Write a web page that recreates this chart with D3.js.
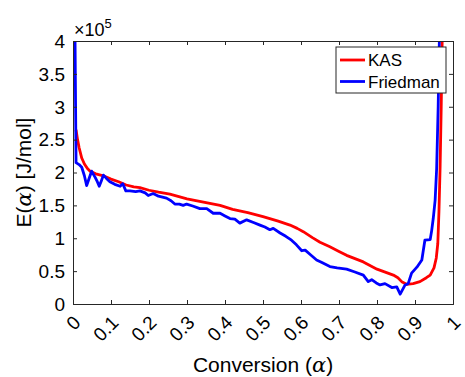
<!DOCTYPE html>
<html>
<head>
<meta charset="utf-8">
<script src="https://cdn.jsdelivr.net/npm/d3@7"></script>
<style>
  html, body { margin: 0; padding: 0; background: #fff; }
  svg { display: block; font-family: "Liberation Sans", Arial, Helvetica, sans-serif; }
</style>
</head>
<body>
<svg id="chart" width="465" height="377"></svg>
<script>
// Activation energy vs. conversion, KAS and Friedman isoconversional methods (E in J/mol)
const kasAlpha = [0.008,0.012,0.016,0.023,0.030,0.038,0.045,0.060,0.080,0.100,0.120,0.140,0.160,0.176,0.200,0.225,0.255,0.300,0.350,0.387,0.420,0.460,0.500,0.540,0.571,0.590,0.606,0.630,0.650,0.676,0.700,0.720,0.764,0.800,0.843,0.855,0.865,0.878,0.895,0.913,0.930,0.940,0.950,0.956,0.960,0.963,0.966,0.969,0.972];
const kasE = [265000,250000,238000,222000,213000,206000,202000,198000,195000,190000,186000,181000,178000,177000,173000,170000,167000,160000,154000,150000,144000,139000,133000,126000,120000,115000,110000,101000,94000,87000,80000,74000,64000,53000,44000,40000,34000,30000,31000,34000,40000,44000,55000,70000,92000,140000,206000,300000,420000];

const friedmanAlpha = [0.004,0.008,0.016,0.023,0.030,0.036,0.043,0.049,0.058,0.064,0.069,0.075,0.080,0.088,0.097,0.110,0.124,0.131,0.139,0.150,0.165,0.176,0.190,0.198,0.211,0.225,0.246,0.258,0.268,0.280,0.290,0.299,0.315,0.334,0.352,0.369,0.387,0.400,0.413,0.426,0.439,0.457,0.475,0.492,0.505,0.518,0.527,0.545,0.560,0.575,0.588,0.602,0.611,0.625,0.641,0.655,0.676,0.695,0.720,0.740,0.764,0.777,0.786,0.798,0.808,0.821,0.839,0.852,0.861,0.874,0.882,0.891,0.905,0.918,0.926,0.940,0.944,0.948,0.953,0.957,0.961,0.965];
const friedmanE = [500000,215000,212000,208000,195000,180000,192000,202000,193000,186000,179000,188000,196000,191000,186000,182000,179000,183000,172000,172000,171000,172000,169000,165000,168000,164000,161000,157000,152000,152000,150000,152000,149000,145000,145000,138000,138000,134000,130000,129000,123000,128000,124000,120000,117000,113000,115000,108000,103000,97000,90000,81000,82000,75000,67000,63000,57000,55000,53000,49000,44000,34000,37000,32000,29000,31000,25000,26000,15000,29000,31000,47000,56000,67000,97000,98000,112000,130000,158000,206000,300000,430000];

const series = [
  { name: "KAS", color: "#ff0000", alpha: kasAlpha, E: kasE },
  { name: "Friedman", color: "#0000ff", alpha: friedmanAlpha, E: friedmanE }
];

const xTicks = [0,0.1,0.2,0.3,0.4,0.5,0.6,0.7,0.8,0.9,1];
const xTickLabels = ["0","0.1","0.2","0.3","0.4","0.5","0.6","0.7","0.8","0.9","1"];
const yTicks = [0,50000,100000,150000,200000,250000,300000,350000,400000];
const yTickLabels = ["0","0.5","1","1.5","2","2.5","3","3.5","4"];

const margin = { left: 73, right: 12, top: 41, bottom: 73 };
const W = 465, H = 377;
const svg = d3.select("#chart");
const x = d3.scaleLinear().domain([0, 1]).range([margin.left, W - margin.right]);
const y = d3.scaleLinear().domain([0, 400000]).range([H - margin.bottom, margin.top]);
const axisColor = "#262626";

svg.append("defs").append("clipPath").attr("id", "plotClip")
  .append("rect")
  .attr("x", x(0)).attr("y", y(400000))
  .attr("width", x(1) - x(0)).attr("height", y(0) - y(400000));

// data lines, clipped to the axes box
const line = d3.line().x(d => x(d[0])).y(d => y(d[1]));
const plot = svg.append("g").attr("clip-path", "url(#plotClip)");
series.forEach(s => {
  plot.append("path")
    .datum(s.alpha.map((a, i) => [a, s.E[i]]))
    .attr("fill", "none")
    .attr("stroke", s.color)
    .attr("stroke-width", 2.8)
    .attr("stroke-linejoin", "round")
    .attr("d", line);
});

// axes (ticks inside, box on)
const tickLen = 4;
const axBottom = svg.append("g").attr("transform", `translate(0,${y(0)})`)
  .call(d3.axisBottom(x).tickValues(xTicks).tickSize(-tickLen).tickFormat(""));
const axTop = svg.append("g").attr("transform", `translate(0,${y(400000)})`)
  .call(d3.axisTop(x).tickValues(xTicks).tickSize(-tickLen).tickFormat(""));
const axLeft = svg.append("g").attr("transform", `translate(${x(0)},0)`)
  .call(d3.axisLeft(y).tickValues(yTicks).tickSize(-tickLen).tickFormat(""));
const axRight = svg.append("g").attr("transform", `translate(${x(1)},0)`)
  .call(d3.axisRight(y).tickValues(yTicks).tickSize(-tickLen).tickFormat(""));
[axBottom, axTop, axLeft, axRight].forEach(g => {
  g.select(".domain").attr("stroke", axisColor).attr("stroke-width", 1);
  g.selectAll(".tick line").attr("stroke", axisColor).attr("stroke-width", 1);
});

// y tick labels
svg.append("g").selectAll("text").data(yTicks).join("text")
  .attr("x", x(0) - 8)
  .attr("y", d => y(d))
  .attr("dy", "0.36em")
  .attr("text-anchor", "end")
  .attr("font-size", 19)
  .attr("fill", "#000")
  .text((d, i) => yTickLabels[i]);

// x tick labels, rotated 45 degrees
svg.append("g").selectAll("text").data(xTicks).join("text")
  .attr("transform", d => `translate(${x(d) + 4},${y(0) + 15}) rotate(-45)`)
  .attr("dy", "0.36em")
  .attr("text-anchor", "end")
  .attr("font-size", 19)
  .attr("fill", "#000")
  .text((d, i) => xTickLabels[i]);

// exponent label
const expo = svg.append("text")
  .attr("x", x(0) + 1).attr("y", y(400000) - 5)
  .attr("font-size", 18).attr("fill", "#000");
expo.append("tspan").text("\u00d710");
expo.append("tspan").attr("font-size", 13).attr("dy", -8).text("5");

// axis titles
const xt = svg.append("text")
  .attr("x", (x(0) + x(1)) / 2).attr("y", 372)
  .attr("text-anchor", "middle").attr("font-size", 21).attr("fill", "#000");
xt.append("tspan").text("Conversion (");
xt.append("tspan").attr("font-family", "'DejaVu Serif', 'Liberation Serif', serif").attr("font-style", "italic").text("\u03b1");
xt.append("tspan").text(")");

const yt = svg.append("text")
  .attr("transform", `translate(31,${(y(0) + y(400000)) / 2}) rotate(-90)`)
  .attr("text-anchor", "middle").attr("font-size", 21).attr("fill", "#000");
yt.append("tspan").text("E(");
yt.append("tspan").attr("font-family", "'DejaVu Serif', 'Liberation Serif', serif").attr("font-style", "italic").text("\u03b1");
yt.append("tspan").text(") [J/mol]");

// legend
const lg = svg.append("g");
lg.append("rect")
  .attr("x", 336).attr("y", 47).attr("width", 110).attr("height", 46)
  .attr("fill", "#fff").attr("stroke", axisColor).attr("stroke-width", 1);
series.forEach((s, i) => {
  const ly = 60 + i * 21.5;
  lg.append("line")
    .attr("x1", 340).attr("x2", 365).attr("y1", ly).attr("y2", ly)
    .attr("stroke", s.color).attr("stroke-width", 2.8);
  lg.append("text")
    .attr("x", 368).attr("y", ly).attr("dy", "0.36em")
    .attr("font-size", 17).attr("fill", "#000")
    .text(s.name);
});
</script>
</body>
</html>
